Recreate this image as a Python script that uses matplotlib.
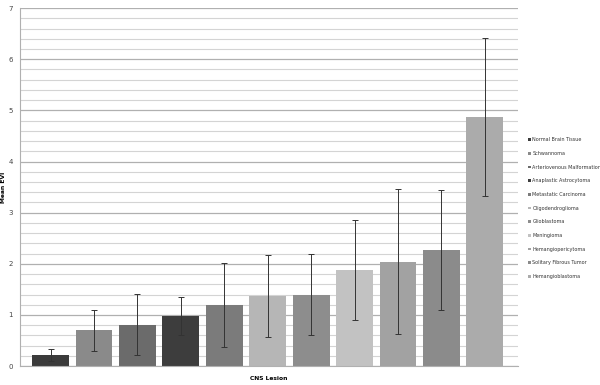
import numpy as np
import matplotlib.pyplot as plt
from matplotlib.ticker import MultipleLocator

lesions = ['Normal Brain Tissue', 'Schwannoma', 'Arteriovenous Malformation',
           'Anaplastic Astrocytoma', 'Metastatic Carcinoma', 'Oligodendroglioma',
           'Glioblastoma', 'Meningioma', 'Hemangiopericytoma',
           'Solitary Fibrous Tumor', 'Hemangioblastoma']
mean_evi = [0.22, 0.70, 0.81, 0.98, 1.20, 1.37, 1.40, 1.88, 2.04, 2.27, 4.87]
evi_err = [0.12, 0.40, 0.60, 0.38, 0.82, 0.81, 0.80, 0.97, 1.42, 1.18, 1.54]
bar_colors = ['#3b3b3b', '#8a8a8a', '#6b6b6b', '#3d3d3d', '#7b7b7b', '#b6b6b6',
              '#8d8d8d', '#c2c2c2', '#a2a2a2', '#8b8b8b', '#ababab']

fig = plt.figure(figsize=(6, 3.85), dpi=100)
ax = fig.add_axes([0.033, 0.049, 0.83, 0.93])

x = np.arange(len(lesions))
ax.set_axisbelow(True)
bars = ax.bar(x, mean_evi, width=0.85, color=bar_colors, yerr=evi_err,
              error_kw=dict(ecolor='#333333', elinewidth=0.7, capsize=2.2, capthick=0.7))
for b, name in zip(bars, lesions):
    b.set_label(name)

ax.set_ylim(0, 7)
ax.set_xlim(-0.71, 10.76)
ax.yaxis.set_major_locator(MultipleLocator(1))
ax.yaxis.set_minor_locator(MultipleLocator(0.2))
ax.grid(True, axis='y', which='major', color='#b0b0b0', linewidth=0.9)
ax.grid(True, axis='y', which='minor', color='#d4d4d4', linewidth=0.8)
ax.set_xticks([])
ax.tick_params(axis='y', which='both', length=0, labelsize=5, colors='#444444', pad=5)
for s in ['top', 'right']:
    ax.spines[s].set_visible(False)
ax.spines['left'].set_color('#b0b0b0')
ax.spines['bottom'].set_color('#b0b0b0')

ax.set_ylabel('Mean EVI', fontsize=4.3, fontweight='bold', labelpad=2)
ax.set_xlabel('CNS Lesion', fontsize=4.3, fontweight='bold', labelpad=7)

leg = fig.legend(loc='upper left', bbox_to_anchor=(0.877, 0.648), frameon=False,
                 fontsize=3.5, handlelength=0.5, handleheight=0.5, handletextpad=0.35,
                 labelspacing=1.78, borderaxespad=0)
for t in leg.get_texts():
    t.set_color('#333333')

fig.savefig('out.png', dpi=100)
